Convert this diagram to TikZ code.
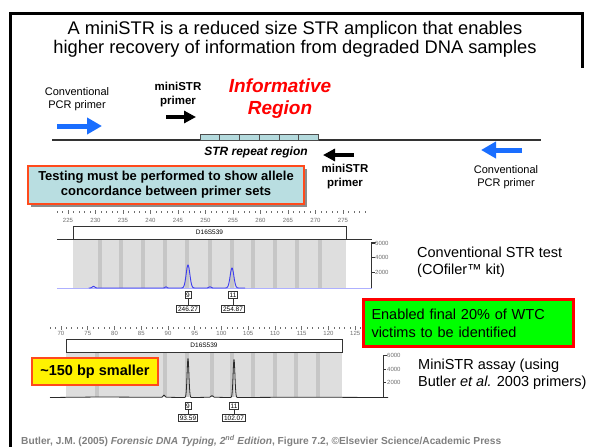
\documentclass[tikz,border=0pt]{standalone}
\usepackage{fontspec}
\setmainfont{Liberation Sans}
\usetikzlibrary{arrows.meta,shadows}

\definecolor{pcrblue}{HTML}{1A6EFF}
\definecolor{repfill}{HTML}{B4DADD}
\definecolor{notefill}{HTML}{B9DEE1}
\definecolor{noteedge}{HTML}{FF4A1C}
\definecolor{binbg}{HTML}{DEDEDE}
\definecolor{binband}{HTML}{C6C6C6}
\definecolor{tracea}{HTML}{3C3CF0}
\definecolor{traceabase}{HTML}{AEB0FF}
\definecolor{traceb}{HTML}{2A2A2A}
\definecolor{scalegray}{HTML}{6E6E6E}

\tikzset{
  plain/.style={inner sep=0pt, align=center},
  lbl/.style={plain, font=\fontsize{11}{12.5}\selectfont},
  mlbl/.style={plain, font=\fontsize{11.5}{14}\selectfont\bfseries},
  pcrarrow/.style={draw=pcrblue, line width=5pt, -{Triangle[length=15pt,width=16pt]}},
  miniarrow/.style={draw=black, line width=3.5pt, -{Triangle[length=12pt,width=12pt]}},
  repbox/.style={draw=black!70, fill=repfill, line width=0.6pt},
  tick/.style={draw=scalegray, line width=0.6pt},
  ticknum/.style={plain, font=\fontsize{6}{6}\selectfont, text=scalegray},
  markerbox/.style={draw=black!80, fill=white, line width=0.8pt},
  allele/.style={draw=black!80, fill=white, line width=0.6pt, inner sep=1.3pt,
    font=\fontsize{6.5}{6.5}\selectfont},
  bigtext/.style={inner sep=0pt, align=left, font=\fontsize{14.5}{17}\selectfont}
}

\begin{document}
\begin{tikzpicture}[x=1pt,y=-1pt]
\useasboundingbox (0,0) rectangle (589,447);
\fill[white] (0,0) rectangle (589,447);

% frame
\draw[line width=3pt] (10,450) -- (10,13.5) -- (582,13.5) -- (582,68);

\node[plain, font=\fontsize{18.3}{19.5}\selectfont] (title) at (295,39.5)
  {A miniSTR is a reduced size STR amplicon that enables\\higher recovery of information from degraded DNA samples};

% primers and repeat region
\node[lbl] (convl) at (77,99) {Conventional\\PCR primer};
\draw[pcrarrow] (57,126) -- (102,126);
\node[mlbl] (minil) at (178,95) {miniSTR\\primer};
\draw[miniarrow] (166,117) -- (196,117);
\node[plain, text=red, font=\fontsize{19}{22}\selectfont\bfseries\itshape] (info) at (280,99) {Informative\\Region};

\draw[black!80, line width=1.1pt] (52,140) -- (541,140);
\foreach \i in {0,...,5}
  \draw[repbox] ({200+\i*19.7},134.5) rectangle +(19.7,5.5);
\node[plain, font=\fontsize{12}{12}\selectfont\bfseries\itshape] (strlbl) at (256,152) {STR repeat region};

\draw[miniarrow] (354,155) -- (323,155);
\node[mlbl] (minir) at (345,177) {miniSTR\\primer};
\draw[pcrarrow] (522,150) -- (481,150);
\node[lbl] (convr) at (506,177) {Conventional\\PCR primer};

\node[plain, fill=notefill, draw=noteedge, line width=2pt, minimum width=276pt, minimum height=38pt,
  font=\fontsize{13}{15}\selectfont\bfseries,
  drop shadow={shadow xshift=3pt, shadow yshift=-3pt, fill=black!45, opacity=1}] (testing) at (166,185)
  {Testing must be performed to show allele\\concordance between primer sets};

% conventional electropherogram
\foreach \b in {223,...,279}
  \draw[tick] ({68+(\b-225)*5.5},211) -- +(0,2);
\foreach \b [count=\k] in {225,230,...,275} {
  \draw[tick] ({68+(\b-225)*5.5},210) -- +(0,4);
  \node[ticknum] (na\k) at ({68+(\b-225)*5.5},220.5) {\b};
}
\fill[binbg] (73,240) rectangle (346,288);
\foreach \p in {100,121,143,165,187,210,232,253,275,297,320}
  \fill[binband] ({\p-1.7},240) rectangle ({\p+1.7},288);
\draw[line width=1.2pt, black!80] (57,239.5) -- (372,239.5);
\node[markerbox, minimum width=273pt, minimum height=13pt, plain, font=\fontsize{6.5}{6.5}\selectfont] (loca) at (209.5,232.5) {D16S539};
\draw[traceabase, line width=1pt] (57,288) -- (372,288);
\draw[tracea, line width=0.9pt] (89,288)
  -- plot[domain=89:98,samples=20] (\x,{288-1.6*exp(-((\x-93.5)/1.8)^2)})
  -- (162,288) -- plot[domain=162:170,samples=15] (\x,{288-1.2*exp(-((\x-166)/1.3)^2)})
  -- (179,288) -- plot[domain=179:197,samples=50] (\x,{288-23*exp(-((\x-188)/2.6)^2)})
  -- (205,288) -- plot[domain=205:215,samples=15] (\x,{288-1.2*exp(-((\x-210)/1.6)^2)})
  -- (223,288) -- plot[domain=223:241,samples=50] (\x,{288-20*exp(-((\x-232)/2.6)^2)})
  -- (245,288);
\draw[black!80, line width=0.8pt] (371.5,288) -- (371.5,242.5) -- +(4,0);
\foreach \v/\y in {6000/243,4000/257.5,2000/272} {
  \draw[black!80, line width=0.6pt] (371.5,\y) -- +(3,0);
  \node[ticknum, anchor=west] (ya\v) at (375,\y) {\v};
}
\node[allele] (p9a) at (188,295) {9};
\node[allele] (s9a) at (188,309) {246.27};
\node[allele] (p11a) at (233,295) {11};
\node[allele] (s11a) at (233,309) {254.87};
\draw[black!80, line width=0.5pt] (p9a) -- (s9a);
\draw[black!80, line width=0.5pt] (p11a) -- (s11a);

\node[bigtext, anchor=west] (convtest) at (417,262) {Conventional STR test\\(COfiler™ kit)};

% miniSTR electropherogram
\foreach \b in {68,...,127}
  \draw[tick] ({61+(\b-70)*5.35},327) -- +(0,2);
\foreach \b [count=\k] in {70,75,...,125} {
  \draw[tick] ({61+(\b-70)*5.35},326) -- +(0,4);
  \node[ticknum] (nb\k) at ({61+(\b-70)*5.35},333) {\b};
}
\fill[binbg] (66,352) rectangle (342,397);
\foreach \p in {97,165,187,212,232,253,275,296,318}
  \fill[binband] ({\p-1.7},352) rectangle ({\p+1.7},397);
\node[markerbox, minimum width=276pt, minimum height=13pt, plain, font=\fontsize{6.5}{6.5}\selectfont] (locb) at (204,345.5) {D16S539};
\draw[traceb, line width=0.8pt] (50,397.5) -- (100,397) -- (160,397.3)
  -- plot[domain=160:168,samples=15] (\x,{397.3-2.2*exp(-((\x-164)/1.3)^2)})
  -- (183,397.5) -- plot[domain=183:193,samples=50] (\x,{397.5-39*exp(-((\x-188)/1.3)^2)})
  -- (207,397.3) -- plot[domain=207:217,samples=15] (\x,{397.3-1.6*exp(-((\x-212)/1.5)^2)})
  -- (229,397.5) -- plot[domain=229:239,samples=50] (\x,{397.5-38*exp(-((\x-234)/1.3)^2)})
  -- (300,397.2) -- (388,397.5);
\draw[black!80, line width=0.8pt] (383,397) -- (383,355) -- +(4,0);
\foreach \v/\y in {6000/355,4000/369.5,2000/382} {
  \draw[black!80, line width=0.6pt] (383,\y) -- +(3,0);
  \node[ticknum, anchor=west] (yb\v) at (387,\y) {\v};
}
\node[allele] (p9b) at (188,406) {9};
\node[allele] (s9b) at (188,418) {93.59};
\node[allele] (p11b) at (234,406) {11};
\node[allele] (s11b) at (234,418) {102.07};
\draw[black!80, line width=0.5pt] (p9b) -- (s9b);
\draw[black!80, line width=0.5pt] (p11b) -- (s11b);

\node[bigtext, anchor=west] (ministrtest) at (418,374) {MiniSTR assay (using\\Butler \textit{et al.} 2003 primers)};

% callouts
\node[fill=green, draw=red, line width=3pt, anchor=north west, minimum width=210pt, minimum height=47pt,
  text width=194pt, align=left, inner xsep=8pt, font=\fontsize{14.5}{18}\selectfont] (wtc) at (362,298)
  {Enabled final 20\% of WTC\\victims to be identified};
\node[plain, fill=yellow, draw=noteedge, line width=2pt, minimum width=126pt, minimum height=27pt,
  font=\fontsize{14.5}{14.5}\selectfont\bfseries] (smaller) at (95,371.5) {\textasciitilde150 bp smaller};

\node[inner sep=0pt, anchor=west, text=black!50, font=\fontsize{10.2}{11}\selectfont\bfseries] (cite) at (21,441)
  {Butler, J.M. (2005) \textit{Forensic DNA Typing, 2\textsuperscript{nd} Edition}, Figure 7.2, ©Elsevier Science/Academic Press};
\end{tikzpicture}
\end{document}
